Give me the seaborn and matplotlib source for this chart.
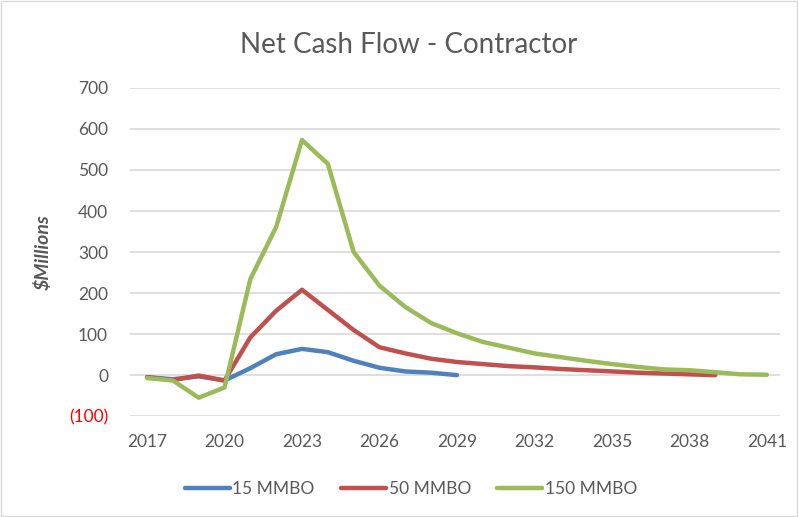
import numpy as np
import pandas as pd
import matplotlib.pyplot as plt
import matplotlib.patches as patches
import seaborn as sns

years_15 = list(range(2017, 2030))
vals_15 = [-5, -10, -3, -13, 17, 51, 64, 56, 35, 18, 9, 6, 0]

years_50 = list(range(2017, 2040))
vals_50 = [-5, -12, -1, -13, 92, 157, 208, 159, 110, 68, 53, 40, 32, 27, 22, 19, 15, 12, 9, 6, 4, 2, 0]

years_150 = list(range(2017, 2042))
vals_150 = [-7, -13, -55, -30, 234, 361, 573, 515, 300, 218, 166, 127, 102, 81, 67, 53, 44, 35, 27, 20, 14, 12, 7, 2, 1]

series_names = ["15 MMBO", "50 MMBO", "150 MMBO"]
colors = ["#4F81BD", "#C0504D", "#9BBB59"]
xticks = list(range(2017, 2042, 3))
yticks = list(range(-100, 701, 100))

df = pd.concat([
    pd.DataFrame({"Year": years_15, "Value": vals_15, "Series": series_names[0]}),
    pd.DataFrame({"Year": years_50, "Value": vals_50, "Series": series_names[1]}),
    pd.DataFrame({"Year": years_150, "Value": vals_150, "Series": series_names[2]}),
])

sns.set_style("white")
plt.rcParams['font.family'] = ['Lato', 'DejaVu Sans']

fig = plt.figure(figsize=(7.99, 5.17), dpi=100)
ax = fig.add_axes([0.163, 0.195, 0.813, 0.635])

sns.lineplot(data=df, x="Year", y="Value", hue="Series", hue_order=series_names,
             palette=colors, linewidth=3.2, ax=ax, legend=True)

ax.set_xlim(2016.35, 2041.5)
ax.set_ylim(-100, 700)
ax.set_xticks(xticks)
ax.set_yticks(yticks)
ax.set_xticklabels([str(t) for t in xticks])
ylabels = ["(100)" if t < 0 else str(t) for t in yticks]
ax.set_yticklabels(ylabels)
for lab in ax.get_yticklabels():
    if lab.get_text().startswith("("):
        lab.set_color("#FF0000")
    else:
        lab.set_color("#595959")
for lab in ax.get_xticklabels():
    lab.set_color("#595959")
ax.tick_params(axis="both", length=0, labelsize=12.5)
ax.tick_params(axis="y", pad=16)
ax.tick_params(axis="x", pad=13)
ax.yaxis.grid(True, color="#D9D9D9", linewidth=1.2)
ax.xaxis.grid(False)
for s in ax.spines.values():
    s.set_visible(False)

ax.set_xlabel("")
ax.set_ylabel("$Millions", fontsize=14, fontweight="bold", fontstyle="italic",
              color="#595959", labelpad=12)

fig.text(0.511, 0.913, "Net Cash Flow - Contractor", ha="center", va="center",
         fontsize=20, color="#595959")

leg = ax.legend(loc="center", bbox_to_anchor=(0.432, -0.222), ncol=3, frameon=False,
                fontsize=12.5, handlelength=2.6, handletextpad=0.15, columnspacing=1.5)
for t in leg.get_texts():
    t.set_color("#595959")

fig.patches.append(patches.Rectangle((0.001, 0.001), 0.997, 0.997, transform=fig.transFigure,
                                     fill=False, edgecolor="#D9D9D9", linewidth=1))

fig.savefig("out.png", dpi=100)
